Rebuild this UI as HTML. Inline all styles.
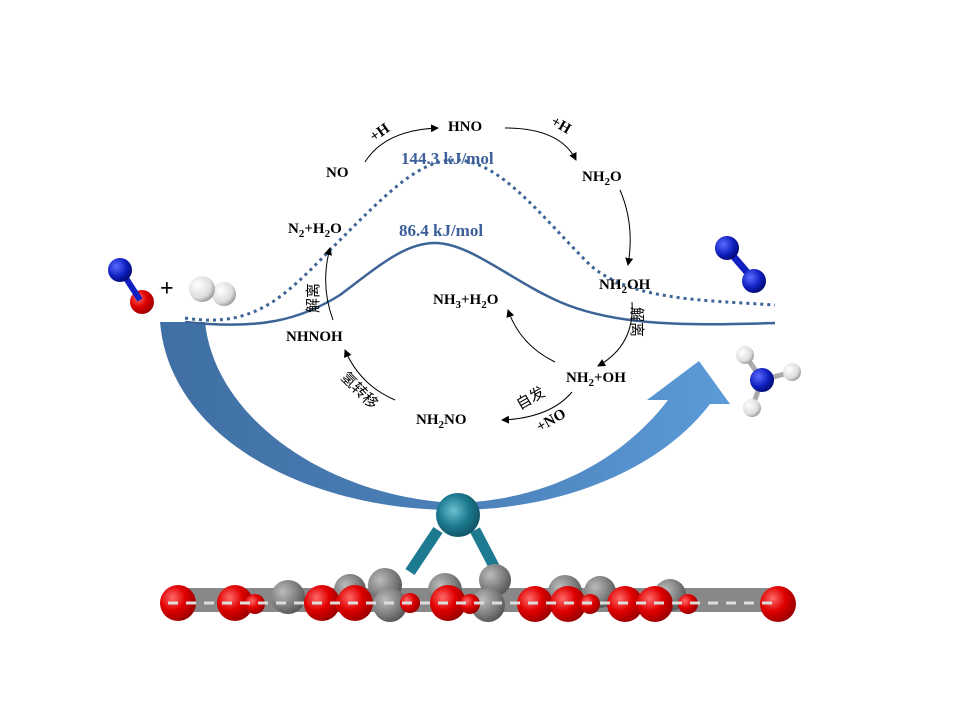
<!DOCTYPE html>
<html><head><meta charset="utf-8"><style>
html,body{margin:0;padding:0;background:#fff}
svg{display:block}
text{font-family:"Liberation Serif","Noto Serif CJK SC",serif;font-weight:bold;font-size:15px;fill:#000}
.cn{font-family:"Liberation Sans","Noto Sans CJK SC",sans-serif;font-weight:normal;font-size:15px}
.e{fill:#3c5f9b;font-size:17px}
</style></head><body>
<svg width="960" height="720" viewBox="0 0 960 720" xmlns="http://www.w3.org/2000/svg">
<defs>
<linearGradient id="ag" x1="0" x2="1" y1="0" y2="0">
<stop offset="0" stop-color="#3f6fa3"/><stop offset="0.5" stop-color="#4a7fb8"/><stop offset="1" stop-color="#5b9bd8"/></linearGradient>
<radialGradient id="red" cx="0.35" cy="0.35" r="0.7"><stop offset="0" stop-color="#ff6a6a"/><stop offset="0.5" stop-color="#e00000"/><stop offset="1" stop-color="#900"/></radialGradient>
<radialGradient id="gray" cx="0.35" cy="0.35" r="0.7"><stop offset="0" stop-color="#bbb"/><stop offset="0.6" stop-color="#808080"/><stop offset="1" stop-color="#555"/></radialGradient>
<radialGradient id="blue" cx="0.35" cy="0.35" r="0.7"><stop offset="0" stop-color="#5a6cff"/><stop offset="0.6" stop-color="#1020c0"/><stop offset="1" stop-color="#000a70"/></radialGradient>
<radialGradient id="wh" cx="0.35" cy="0.35" r="0.7"><stop offset="0" stop-color="#fff"/><stop offset="0.7" stop-color="#ddd"/><stop offset="1" stop-color="#999"/></radialGradient>
<radialGradient id="pt" cx="0.4" cy="0.4" r="0.7"><stop offset="0" stop-color="#6ec0d0"/><stop offset="0.5" stop-color="#1d7a90"/><stop offset="1" stop-color="#0d4a5a"/></radialGradient>
<marker id="ar" markerWidth="8" markerHeight="8" refX="7" refY="4" orient="auto" markerUnits="userSpaceOnUse"><path d="M0,0 L8,4 L0,8 Z" fill="#000"/></marker>
</defs>

<!-- big arrow -->
<path d="M160,322 L205,322 C215,420 330,497 455,503 C560,500 630,450 668,400 L647,400 L699,361 L730,404 L710,404 C660,470 560,510 455,510 C310,510 170,440 160,322 Z" fill="url(#ag)"/>

<!-- energy curves -->
<path d="M185,318 C260,330 290,290 340,240 C390,190 420,160 455,160 C500,160 540,215 590,265 C630,300 700,300 775,305" fill="none" stroke="#3c6496" stroke-width="3" stroke-dasharray="3,4"/>
<path d="M185,322 C260,330 300,320 340,295 C380,265 405,243 435,243 C470,243 510,280 560,302 C620,328 700,325 775,323" fill="none" stroke="#3c6496" stroke-width="2.5"/>

<!-- surface -->
<line x1="438" y1="530" x2="410" y2="572" stroke="#1d7a90" stroke-width="11"/>
<line x1="475" y1="530" x2="497" y2="572" stroke="#1d7a90" stroke-width="11"/>
<rect x="170" y="588" width="610" height="24" fill="#888"/>
<g fill="url(#gray)">
<circle cx="288" cy="597" r="17"/><circle cx="350" cy="590" r="16"/><circle cx="385" cy="585" r="17"/><circle cx="390" cy="605" r="17"/><circle cx="445" cy="590" r="17"/><circle cx="495" cy="580" r="16"/><circle cx="488" cy="605" r="17"/><circle cx="565" cy="592" r="17"/><circle cx="600" cy="592" r="16"/><circle cx="670" cy="595" r="16"/>
</g>
<g fill="url(#red)">
<circle cx="178" cy="603" r="18"/><circle cx="235" cy="603" r="18"/><circle cx="255" cy="604" r="10"/><circle cx="322" cy="603" r="18"/><circle cx="345" cy="604" r="10"/><circle cx="410" cy="603" r="10"/><circle cx="355" cy="603" r="18"/><circle cx="448" cy="603" r="18"/><circle cx="470" cy="604" r="10"/><circle cx="535" cy="604" r="18"/><circle cx="568" cy="604" r="18"/><circle cx="590" cy="604" r="10"/><circle cx="625" cy="604" r="18"/><circle cx="655" cy="604" r="18"/><circle cx="688" cy="604" r="10"/><circle cx="778" cy="604" r="18"/>
</g>
<line x1="168" y1="603" x2="780" y2="603" stroke="#ddd" stroke-width="3" stroke-dasharray="10,8"/>
<circle cx="458" cy="515" r="22" fill="url(#pt)"/>

<!-- molecules -->
<circle cx="142" cy="302" r="12" fill="url(#red)"/>
<line x1="122" y1="272" x2="140" y2="300" stroke="#1020c0" stroke-width="6"/>
<circle cx="120" cy="270" r="12" fill="url(#blue)"/>
<text x="160" y="296" style="font-size:24px">+</text>
<circle cx="224" cy="294" r="12" fill="url(#wh)"/>
<circle cx="202" cy="289" r="13" fill="url(#wh)"/>
<line x1="728" y1="250" x2="752" y2="278" stroke="#1020c0" stroke-width="7"/>
<circle cx="727" cy="248" r="12" fill="url(#blue)"/>
<circle cx="754" cy="281" r="12" fill="url(#blue)"/>
<line x1="762" y1="380" x2="745" y2="355" stroke="#aaa" stroke-width="5"/>
<line x1="762" y1="380" x2="792" y2="372" stroke="#aaa" stroke-width="5"/>
<line x1="762" y1="380" x2="752" y2="408" stroke="#aaa" stroke-width="5"/>
<circle cx="745" cy="355" r="9" fill="url(#wh)"/>
<circle cx="792" cy="372" r="9" fill="url(#wh)"/>
<circle cx="762" cy="380" r="12" fill="url(#blue)"/>
<circle cx="752" cy="408" r="9" fill="url(#wh)"/>

<!-- cycle arrows -->
<g fill="none" stroke="#000" stroke-width="1" marker-end="url(#ar)">
<path d="M365,162 Q385,130 438,128"/>
<path d="M505,128 Q560,128 576,160"/>
<path d="M620,190 Q635,225 628,265"/>
<path d="M632,302 Q635,345 598,366"/>
<path d="M555,362 Q520,345 508,310"/>
<path d="M572,392 Q550,418 502,420"/>
<path d="M395,400 Q360,385 345,350"/>
<path d="M333,320 Q320,285 330,248"/>
</g>

<!-- labels -->
<text x="326" y="177">NO</text>
<text x="448" y="131">HNO</text>
<text x="582" y="181">NH<tspan dy="4" font-size="11">2</tspan><tspan dy="-4">O</tspan></text>
<text x="288" y="233">N<tspan dy="4" font-size="11">2</tspan><tspan dy="-4">+H</tspan><tspan dy="4" font-size="11">2</tspan><tspan dy="-4">O</tspan></text>
<text x="599" y="289">NH<tspan dy="4" font-size="11">2</tspan><tspan dy="-4">OH</tspan></text>
<text x="433" y="304">NH<tspan dy="4" font-size="11">3</tspan><tspan dy="-4">+H</tspan><tspan dy="4" font-size="11">2</tspan><tspan dy="-4">O</tspan></text>
<text x="286" y="341">NHNOH</text>
<text x="566" y="382">NH<tspan dy="4" font-size="11">2</tspan><tspan dy="-4">+OH</tspan></text>
<text x="416" y="424">NH<tspan dy="4" font-size="11">2</tspan><tspan dy="-4">NO</tspan></text>
<text class="e" x="401" y="164">144.3 kJ/mol</text>
<text class="e" x="399" y="236">86.4 kJ/mol</text>
<text transform="translate(374,142) rotate(-35)">+H</text>
<text transform="translate(550,124) rotate(30)">+H</text>
<text transform="translate(540,432) rotate(-30)">+NO</text>
<text class="cn" transform="translate(520,410) rotate(-30)">自发</text>
<text class="cn" transform="translate(340,378) rotate(45)">氢转移</text>
<text class="cn" transform="translate(318,298) rotate(-90)" text-anchor="middle">解离</text>
<text class="cn" transform="translate(632,322) rotate(90)" text-anchor="middle">解离</text>
</svg>
</body></html>
